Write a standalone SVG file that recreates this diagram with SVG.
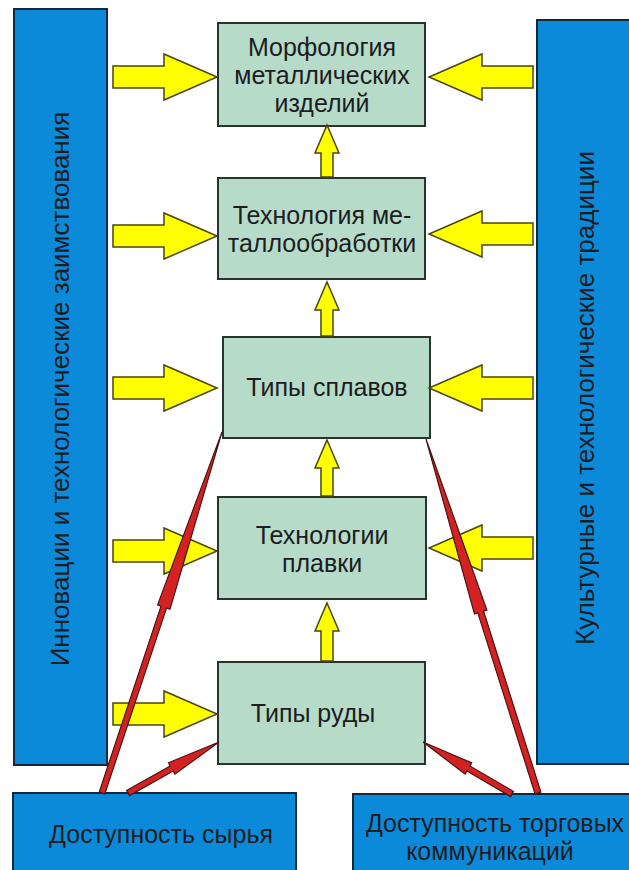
<svg xmlns="http://www.w3.org/2000/svg" width="629" height="870" viewBox="0 0 629 870">
<style>
.bar{fill:#0a8ad8;stroke:#15283a;stroke-width:2}
.box{fill:#b6dbc9;stroke:#2a332e;stroke-width:2}
.t{font-family:"Liberation Sans",Arial,sans-serif;fill:#1c1c22;text-anchor:middle}
.bt{font-size:25px}
.vt{font-size:26px}
.ya{fill:#ffff00;stroke:#4a4610;stroke-width:1.5;stroke-linejoin:miter}
.ra{fill:#d42222;stroke:#4a1414;stroke-width:1.2;stroke-linejoin:miter}
</style>
<defs>
<path id="yl" d="M113,-11 H164 V-23 L217,0 L164,23 V11 H113 Z"/>
<path id="yr" d="M533,-11 H482 V-23 L429,0 L482,23 V11 H533 Z"/>
</defs>

<g id="innovations">
<rect class="bar" x="14" y="9" width="93" height="756"/>
<text class="t vt" transform="translate(69,389) rotate(-90)">Инновации и технологические заимствования</text>
</g>
<g id="traditions">
<rect class="bar" x="537" y="20" width="94" height="744"/>
<text class="t vt" transform="translate(594,398) rotate(-90)">Культурные и технологические традиции</text>
</g>
<g id="raw">
<rect class="bar" x="13" y="793" width="283" height="80"/>
<text class="t bt" x="161" y="843">Доступность сырья</text>
</g>
<g id="trade">
<rect class="bar" x="353" y="794" width="280" height="80"/>
<text class="t bt" x="495" y="832">Доступность торговых</text>
<text class="t bt" x="490" y="860">коммуникаций</text>
</g>

<g id="morph">
<rect class="box" x="218" y="23" width="207" height="103"/>
<text class="t bt" x="322" y="56">Морфология</text>
<text class="t bt" x="322" y="84">металлических</text>
<text class="t bt" x="322" y="112">изделий</text>
</g>
<g id="metalwork">
<rect class="box" x="218" y="178" width="207" height="101"/>
<text class="t bt" x="322" y="224">Технология ме-</text>
<text class="t bt" x="322" y="252">таллообработки</text>
</g>
<g id="alloys">
<rect class="box" x="223" y="337" width="207" height="101"/>
<text class="t bt" x="327" y="396">Типы сплавов</text>
</g>
<g id="smelting">
<rect class="box" x="218" y="497" width="208" height="102"/>
<text class="t bt" x="322" y="544">Технологии</text>
<text class="t bt" x="322" y="572">плавки</text>
</g>
<g id="ore">
<rect class="box" x="218" y="662" width="207" height="102"/>
<text class="t bt" x="313" y="722">Типы руды</text>
</g>

<g id="connectors">
<use href="#yl" class="ya" transform="translate(0,77)"/>
<use href="#yl" class="ya" transform="translate(0,236)"/>
<use href="#yl" class="ya" transform="translate(0,388)"/>
<use href="#yl" class="ya" transform="translate(0,551)"/>
<use href="#yl" class="ya" transform="translate(0,714)"/>
<use href="#yr" class="ya" transform="translate(0,77)"/>
<use href="#yr" class="ya" transform="translate(0,234)"/>
<use href="#yr" class="ya" transform="translate(0,388)"/>
<use href="#yr" class="ya" transform="translate(0,548)"/>
<path class="ya" d="M327,125 L339,153 H333 V177 H321 V153 H315 Z"/>
<path class="ya" d="M327,282 L339,310 H333 V336 H321 V310 H315 Z"/>
<path class="ya" d="M327,440 L339,468 H333 V496 H321 V468 H315 Z"/>
<path class="ya" d="M327,603 L339,631 H333 V661 H321 V631 H315 Z"/>
<polygon class="ra" points="99.2,792.1 161.0,606.1 157.6,604.9 222,432 170.0,609.1 166.6,607.9 104.8,793.9"/>
<polygon class="ra" points="126.5,790.4 170.2,765.9 168.5,762.8 219,742 174.9,774.2 173.2,771.1 129.5,795.6"/>
<polygon class="ra" points="540.9,792.1 483.6,611.1 486.9,610.0 426,439 474.5,614.0 477.8,612.9 535.1,793.9"/>
<polygon class="ra" points="513.5,791.4 469.9,765.9 471.7,762.9 423,742 465.1,774.1 466.9,771.1 510.5,796.6"/>
</g>
</svg>
